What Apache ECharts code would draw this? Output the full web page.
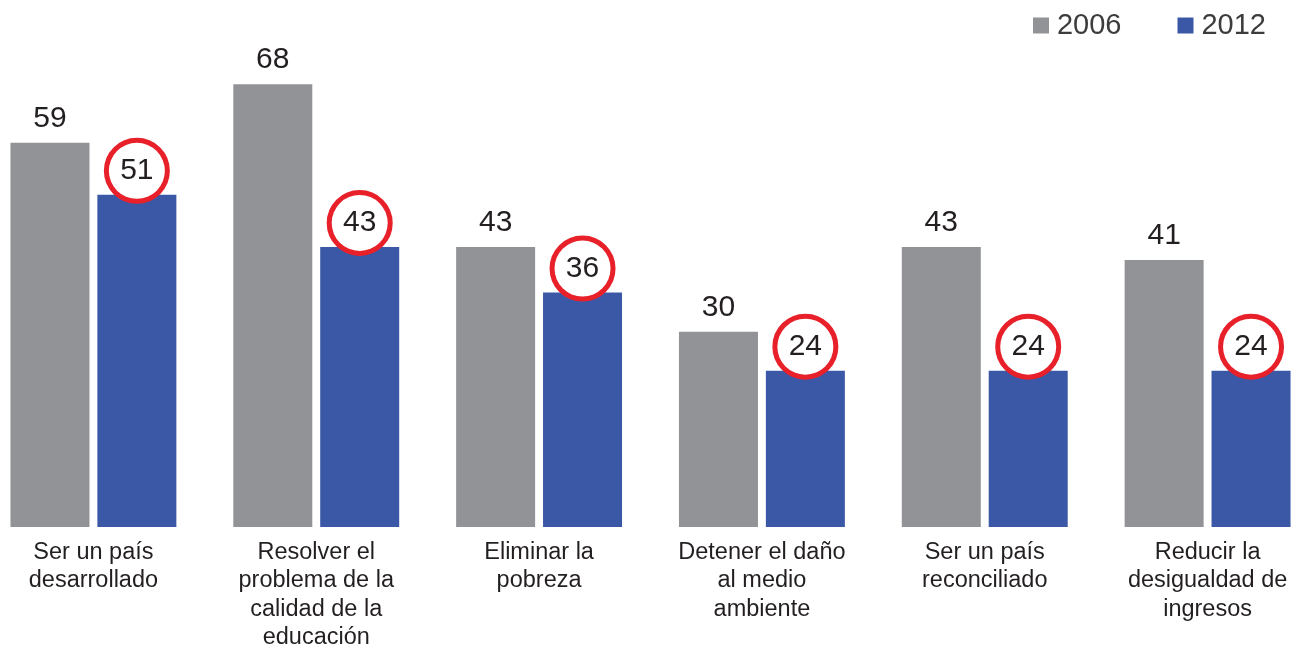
<!DOCTYPE html>
<html>
<head>
<meta charset="utf-8">
<script src="https://cdn.jsdelivr.net/npm/echarts@6/dist/echarts.min.js"></script>
<style>
  html, body { margin: 0; padding: 0; background: #fff; overflow: hidden; }
  /* plot area is a bit wider than the window in the original, so shift the container */
  #chart { width: 1337px; height: 652px; margin-left: -18px; }
</style>
</head>
<body>
<div id="chart"></div>
<script>
const categories = [
  'Ser un país\ndesarrollado',
  'Resolver el\nproblema de la\ncalidad de la\neducación',
  'Eliminar la\npobreza',
  'Detener el daño\nal medio\nambiente',
  'Ser un país\nreconciliado',
  'Reducir la\ndesigualdad de\ningresos',
]
const values2006 = [59, 68, 43, 30, 43, 41]
const values2012 = [51, 43, 36, 24, 24, 24]

const font = 'Liberation Sans, Arial, sans-serif'

let myChart = echarts.init(document.getElementById('chart'))
let option = {
  animation: false,
  textStyle: { fontFamily: font },
  legend: {
    top: 6,
    right: 48,
    itemWidth: 16,
    itemHeight: 16,
    itemGap: 56,
    icon: 'rect',
    textStyle: { fontSize: 29, color: '#3c3c3c', fontFamily: font, padding: [0, 0, 0, 3] },
    data: ['2006', '2012'],
  },
  grid: {
    top: 6,
    bottom: 124,
    left: 0,
    right: 0,
    containLabel: false,
  },
  xAxis: {
    type: 'category',
    data: categories,
    axisLine: { show: false },
    axisTick: { show: false },
    axisLabel: {
      interval: 0,
      margin: 11,
      fontSize: 23.5,
      lineHeight: 28.5,
      color: '#231f20',
      fontFamily: font,
    },
  },
  yAxis: {
    type: 'value',
    min: 0,
    max: 80,
    show: false,
    splitLine: { show: false },
  },
  series: [
    {
      name: '2006',
      type: 'bar',
      data: values2006,
      barWidth: 79,
      barGap: '10%',
      itemStyle: { color: '#929396' },
      label: {
        show: true,
        position: 'top',
        distance: 9,
        fontSize: 30,
        color: '#231f20',
        fontFamily: font,
      },
    },
    {
      name: '2012',
      type: 'bar',
      data: values2012,
      barWidth: 79,
      barGap: '10%',
      itemStyle: { color: '#3b58a7' },
      label: {
        show: true,
        position: 'top',
        distance: -4,
        fontSize: 30,
        color: '#231f20',
        fontFamily: font,
        backgroundColor: '#fff',
        borderColor: '#e8202a',
        borderWidth: 5,
        borderRadius: 32,
        width: 56,
        height: 56,
        lineHeight: 56,
        align: 'center',
      },
    },
  ],
}
myChart.setOption(option, true)
</script>
</body>
</html>
